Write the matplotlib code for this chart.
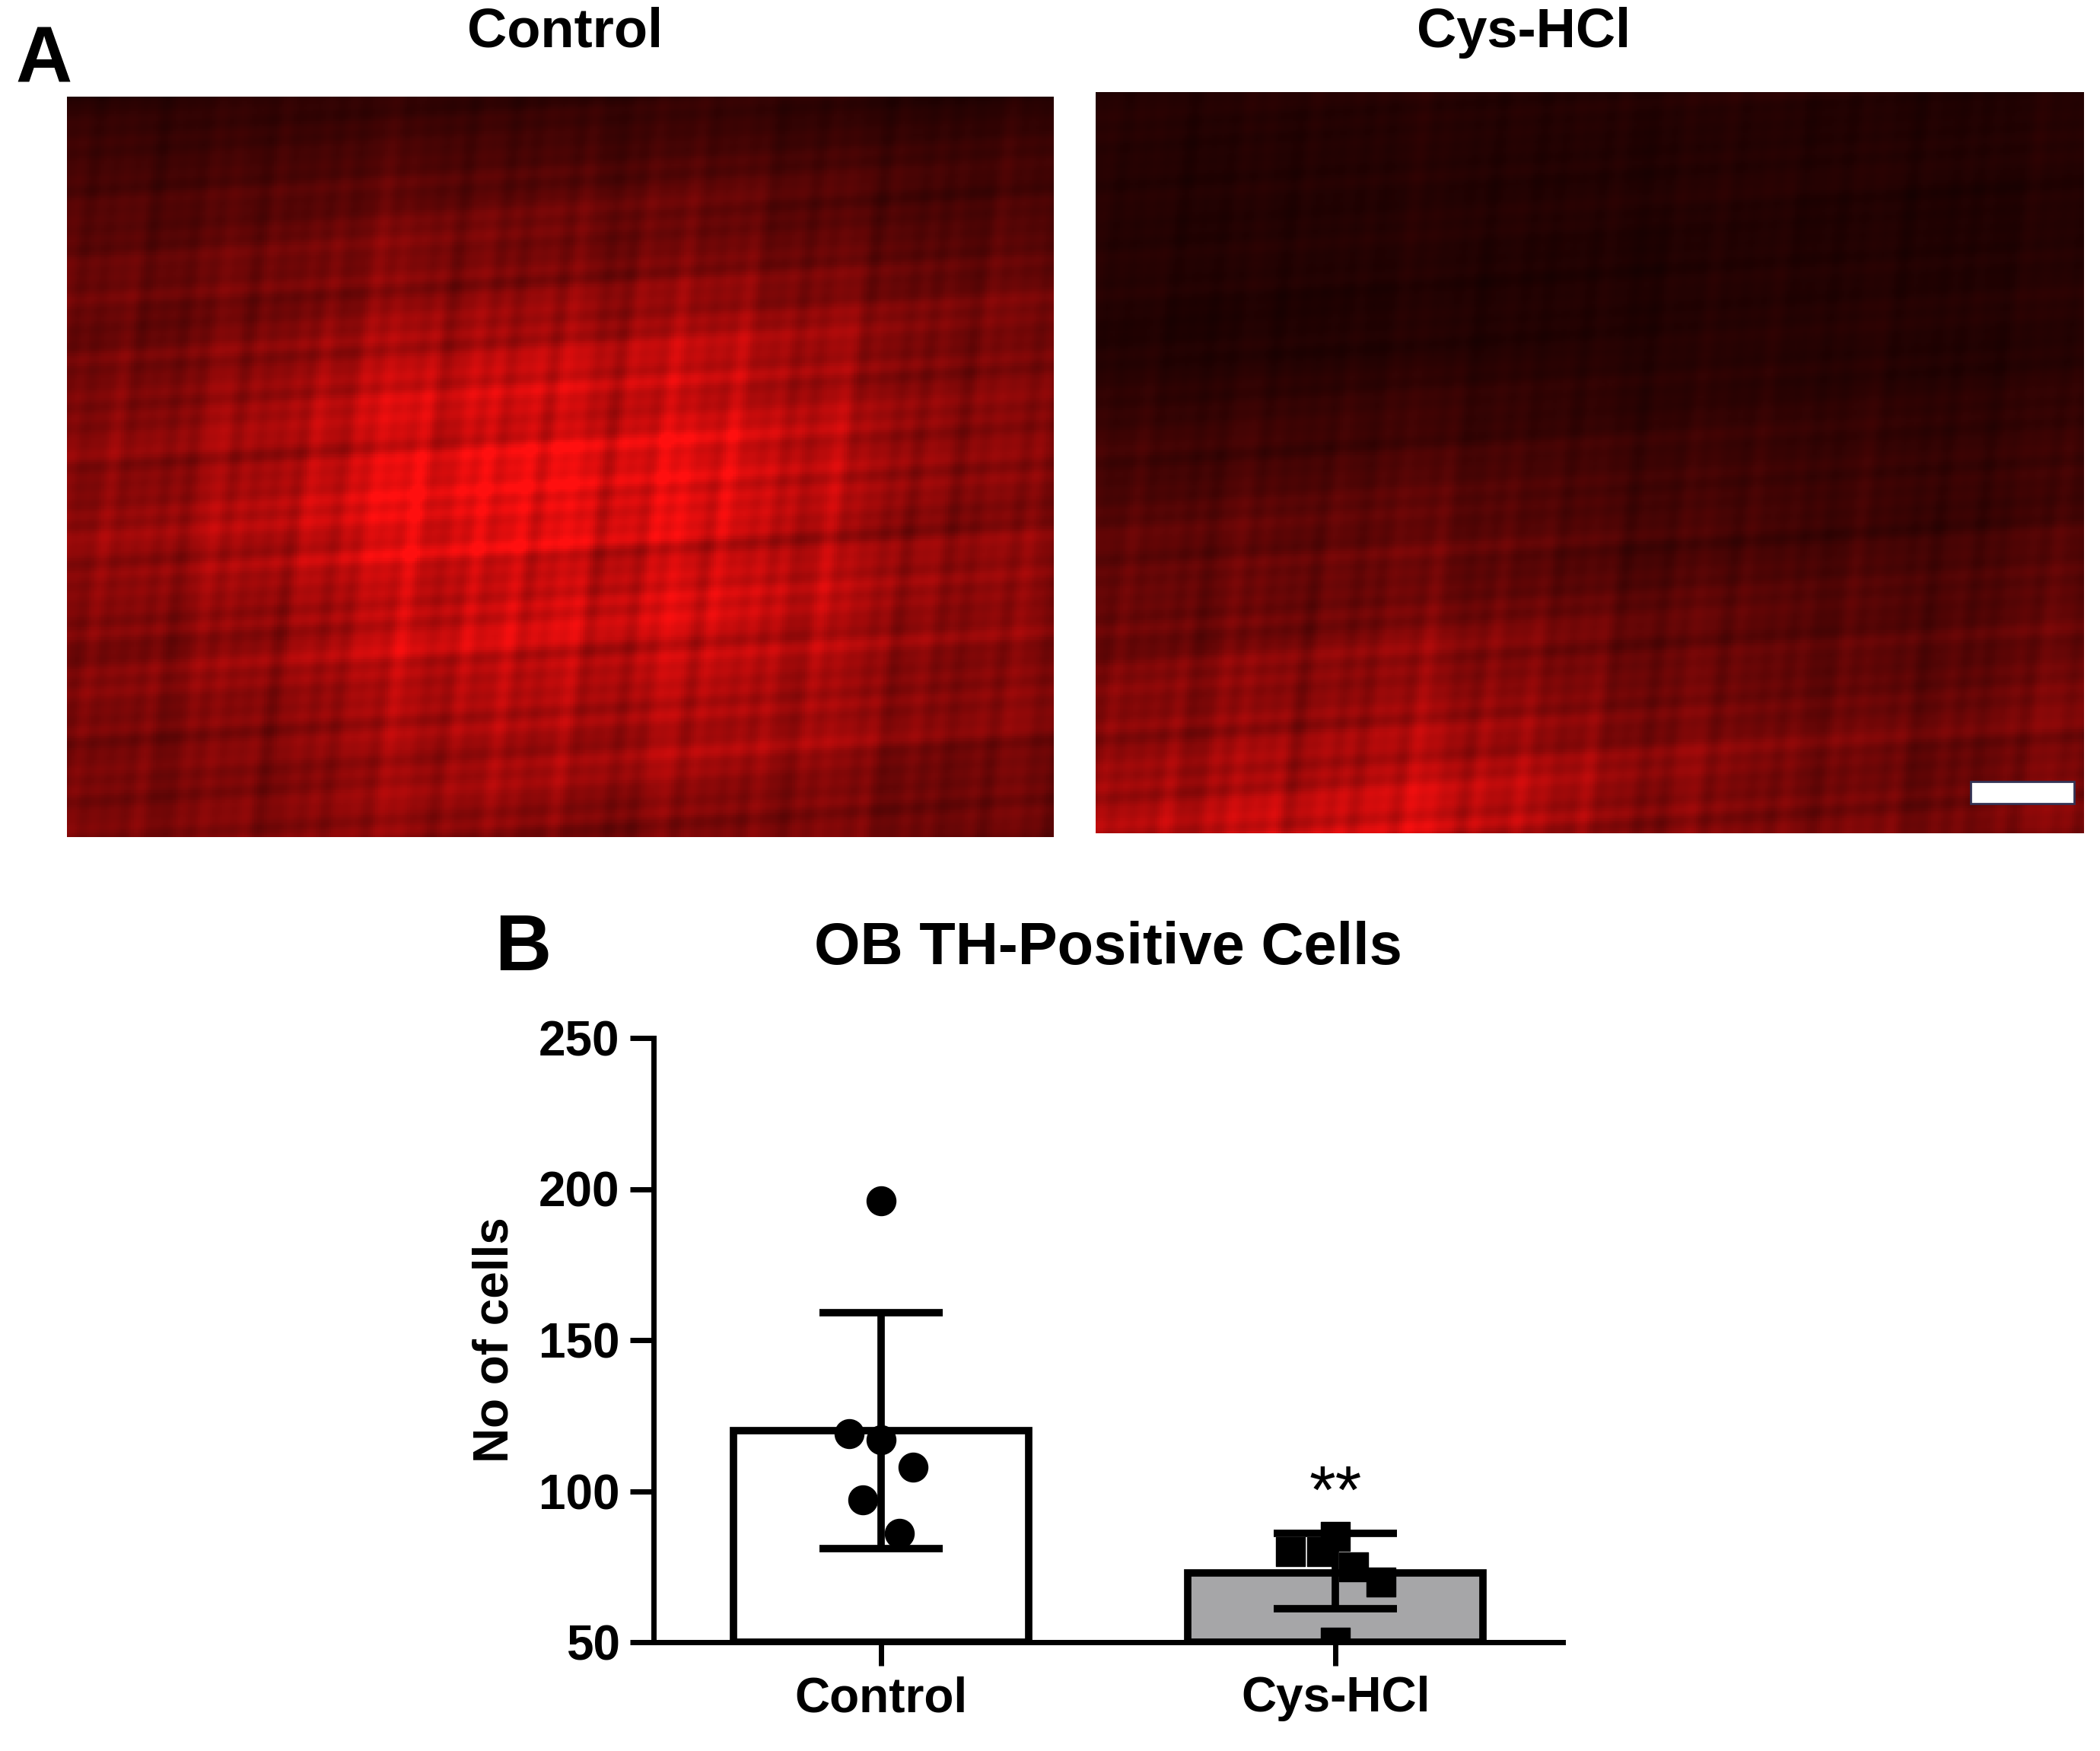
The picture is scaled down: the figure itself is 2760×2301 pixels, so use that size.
import numpy as np
import matplotlib
matplotlib.use("Agg")
import matplotlib.pyplot as plt

plt.rcParams['font.family'] = ['Liberation Sans', 'DejaVu Sans']
plt.rcParams['font.weight'] = 'bold'

groups = ["Control", "Cys-HCl"]
means = [120, 73]
err_lo = [81, 61]
err_hi = [159, 86]
control_pts = [196, 119, 117, 108, 97, 86]
control_dx = [0.0, -0.07, 0.0, 0.07, -0.04, 0.04]
cys_pts = [85, 80, 80, 75, 70, 50]
cys_dx = [0.0, -0.10, -0.03, 0.04, 0.10, 0.0]

fig = plt.figure(figsize=(27.6, 23.01), dpi=100)

def texture(w, h, bright_fn):
    y, x = np.mgrid[0:h, 0:w]
    x = x / w
    y = y / h
    v = np.zeros((h, w))
    for (a, b, c) in [(23, 17, 0.3), (41, 29, 1.1), (67, 53, 2.0), (11, 7, 0.7), (97, 83, 1.7), (151, 131, 0.4)]:
        v += np.sin(a * x + b * y + c) * np.cos(b * x - a * y * 0.7 + c * 2)
    v = (v - v.min()) / (v.max() - v.min())
    base = bright_fn(x, y)
    r = np.clip(base * (0.55 + 0.7 * v), 0, 1)
    img = np.zeros((h, w, 3))
    img[..., 0] = r
    img[..., 1] = r * 0.06
    img[..., 2] = r * 0.06
    return img

ax1 = fig.add_axes([88/2760, 1 - 1100/2301, (1385-88)/2760, (1100-127)/2301])
ax1.imshow(texture(400, 300, lambda x, y: 0.45 + 0.55*np.exp(-((x-0.5)**2/0.15 + (y-0.55)**2/0.12)) - 0.3*(1-y)**4), aspect='auto')
ax1.axis('off')
ax2 = fig.add_axes([1440/2760, 1 - 1095/2301, (2739-1440)/2760, (1095-121)/2301])
ax2.imshow(texture(400, 300, lambda x, y: 0.15 + 0.8*np.clip(y-0.35, 0, 1)*(1 + 0.3*np.sin(6*x))), aspect='auto')
ax2.add_patch(plt.Rectangle((0.885, 0.04), 0.105, 0.03, transform=ax2.transAxes, facecolor='white', edgecolor='#333355', lw=2))
ax2.axis('off')
fig.text(743/2760, 1 - 62/2301, "Control", ha='center', fontsize=52, fontweight='bold')
fig.text(2003/2760, 1 - 62/2301, "Cys-HCl", ha='center', fontsize=52, fontweight='bold')
fig.text(20/2760, 1 - 108/2301, "A", fontsize=74, fontweight='bold')

ax = fig.add_axes([859/2760, 1 - 2158/2301, (2054-859)/2760, (2158-1364)/2301])
x = np.arange(len(groups))
ax.bar(x, [m - 50 for m in means], bottom=50, width=0.65, color=['white', '#a6a6a8'],
       edgecolor='black', linewidth=7, zorder=1)
for i in range(2):
    ax.errorbar(x[i], means[i], yerr=[[means[i]-err_lo[i]], [err_hi[i]-means[i]]],
                fmt='none', ecolor='black', elinewidth=7, capsize=58, capthick=7, zorder=3)
ax.scatter(x[0] + np.array(control_dx), control_pts, s=750, c='black', marker='o', zorder=4)
ax.scatter(x[1] + np.array(cys_dx), cys_pts, s=750, c='black', marker='s', zorder=4)
ax.text(x[1], 88, "**", ha='center', va='bottom', fontsize=64, fontweight='normal')
ax.set_xlim(-0.5, 1.5)
ax.set_ylim(50, 250)
ax.set_yticks([50, 100, 150, 200, 250])
ax.set_xticks(x)
ax.set_xticklabels(groups)
for s in ['top', 'right']:
    ax.spines[s].set_visible(False)
for s in ['left', 'bottom']:
    ax.spines[s].set_linewidth(5)
ax.tick_params(width=5, length=22, labelsize=46, pad=10)
ax.set_ylabel("No of cells", fontsize=46, fontweight='bold', labelpad=20)
ax.set_title("OB TH-Positive Cells", fontsize=56, fontweight='bold', pad=70)
fig.text(650/2760, 1 - 1275/2301, "B", fontsize=74, fontweight='bold')

fig.savefig("out.png", dpi=100)
